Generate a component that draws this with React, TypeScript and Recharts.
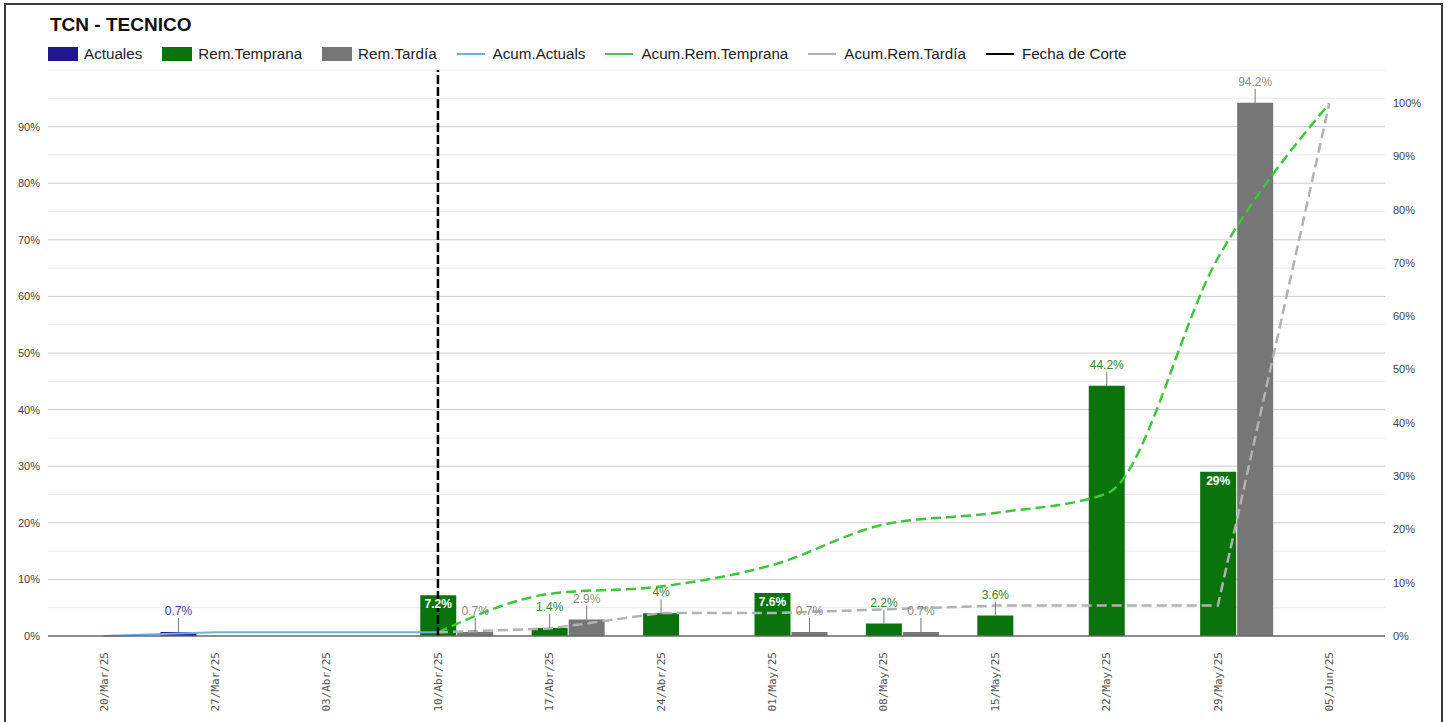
import React from 'react';
import {
  ComposedChart,
  Bar,
  Line,
  XAxis,
  YAxis,
  CartesianGrid,
  ReferenceLine,
  LabelList,
} from 'recharts';

// TCN - TECNICO: avance semanal y acumulado

const fechas = [
  '20/Mar/25', '27/Mar/25', '03/Abr/25', '10/Abr/25', '17/Abr/25', '24/Abr/25',
  '01/May/25', '08/May/25', '15/May/25', '22/May/25', '29/May/25', '05/Jun/25',
];
const actuales = [null, 0.7, null, null, null, null, null, null, null, null, null, null];
const remTemprana = [null, null, null, 7.2, 1.4, 4, 7.6, 2.2, 3.6, 44.2, 29, null];
const remTardia = [null, null, null, 0.7, 2.9, null, 0.7, 0.7, null, null, 94.2, null];
const acumActuals = [0, 0.7, 0.7, 0.7, null, null, null, null, null, null, null, null];
const acumTemprana = [null, null, null, 0.7, 7.9, 9.3, 13.3, 20.9, 23.1, 26.7, 70.9, 99.9];
const acumTardia = [null, null, null, 0.7, 1.4, 4.3, 4.3, 5.0, 5.7, 5.7, 5.7, 99.9];
const fechaCorte = '10/Abr/25';
const ticksIzq = [0, 10, 20, 30, 40, 50, 60, 70, 80, 90];
const ticksDer = [0, 10, 20, 30, 40, 50, 60, 70, 80, 90, 100];
const gridMayor = [10, 20, 30, 40, 50, 60, 70, 80, 90];
const gridMenor = [5, 15, 25, 35, 45, 55, 65, 75, 85, 95, 100];
// semanas donde la etiqueta verde va dentro de la barra
const etiquetasDentro = ['10/Abr/25', '01/May/25', '29/May/25'];

const data = fechas.map((f, i) => {
  const dentro = etiquetasDentro.includes(f);
  return {
    fecha: f,
    actuales: actuales[i],
    remTemprana: remTemprana[i],
    remTardia: remTardia[i],
    etqTempFuera: dentro ? null : remTemprana[i],
    etqTempDentro: dentro ? remTemprana[i] : null,
    acumActuals: acumActuals[i],
    acumTemprana: acumTemprana[i],
    acumTardia: acumTardia[i],
  };
});

const FONT = '"Liberation Sans", Arial, sans-serif';

const C_ACT = '#1d168c';
const C_TEMP = '#0b730b';
const C_TARD = '#767676';
const C_L_ACT = '#72aee6';
const C_L_TEMP = '#3cc83c';
const C_L_TARD = '#b2b2b2';

const leyenda = [
  { nombre: 'Actuales', color: C_ACT, tipo: 'box' },
  { nombre: 'Rem.Temprana', color: C_TEMP, tipo: 'box' },
  { nombre: 'Rem.Tardía', color: C_TARD, tipo: 'box' },
  { nombre: 'Acum.Actuals', color: C_L_ACT, tipo: 'line' },
  { nombre: 'Acum.Rem.Temprana', color: C_L_TEMP, tipo: 'line' },
  { nombre: 'Acum.Rem.Tardía', color: C_L_TARD, tipo: 'line' },
  { nombre: 'Fecha de Corte', color: '#000', tipo: 'line' },
];

const etiquetaFuera = (color: string) => (props: any) => {
  const { x, y, width, value } = props;
  if (value === null || value === undefined) return null;
  const cx = Number(x) + Number(width) / 2;
  const top = Number(y);
  return (
    <g>
      <line x1={cx} x2={cx} y1={top} y2={top - 14} stroke="#777" strokeWidth={1} />
      <text x={cx} y={top - 17} textAnchor="middle" fill={color} fontSize={12} fontFamily={FONT}>
        {`${value}%`}
      </text>
    </g>
  );
};

const etiquetaDentro = (props: any) => {
  const { x, y, width, value } = props;
  if (value === null || value === undefined) return null;
  const cx = Number(x) + Number(width) / 2;
  return (
    <text x={cx} y={Number(y) + 13} textAnchor="middle" fill="#fff" fontWeight="bold" fontSize={12} fontFamily={FONT}>
      {`${value}%`}
    </text>
  );
};

const TickFecha = (props: any) => {
  const { x, y, payload } = props;
  return (
    <text
      x={x}
      y={y + 8}
      transform={`rotate(-90, ${x}, ${y + 8})`}
      textAnchor="end"
      dy="0.35em"
      fill="#555"
      fontSize={11}
      fontFamily='"DejaVu Sans Mono", monospace'
    >
      {payload.value}
    </text>
  );
};

const App: React.FC = () => {
  return (
    <div style={{ position: 'absolute', left: 0, top: 0, width: 1451, height: 722, overflow: 'hidden', background: '#fff' }}>
      <div
        style={{
          position: 'absolute', left: 4, top: 3, width: 1439, height: 730,
          border: '2px solid #3a3a3a', boxSizing: 'border-box',
        }}
      />
      <div style={{ position: 'absolute', left: 50, top: 14, fontFamily: FONT, fontWeight: 'bold', fontSize: 19, color: '#111' }}>
        TCN - TECNICO
      </div>
      <div style={{ position: 'absolute', left: 48, top: 45, display: 'flex', alignItems: 'center', fontFamily: FONT, fontSize: 15.2, color: '#222' }}>
        {leyenda.map((l) => (
          <div key={l.nombre} style={{ display: 'flex', alignItems: 'center', marginRight: 20 }}>
            {l.tipo === 'box' ? (
              <div style={{ width: 30, height: 14, background: l.color, marginRight: 6 }} />
            ) : (
              <div style={{ width: 28, height: 2, background: l.color, marginRight: 8 }} />
            )}
            <span>{l.nombre}</span>
          </div>
        ))}
      </div>
      <div style={{ position: 'absolute', left: 0, top: 0 }}>
        <ComposedChart
          width={1451}
          height={722}
          data={data}
          margin={{ top: 70, right: 0, bottom: 0, left: 0 }}
          barCategoryGap={1}
          barGap={1}
        >
          <CartesianGrid yAxisId="left" vertical={false} horizontalValues={gridMenor} stroke="#ebebeb" />
          <CartesianGrid yAxisId="left" vertical={false} horizontalValues={gridMayor} stroke="#cccccc" />
          <XAxis
            dataKey="fecha"
            interval={0}
            height={86}
            tickLine={false}
            axisLine={{ stroke: '#666', strokeWidth: 1.5 }}
            tick={<TickFecha />}
          />
          <YAxis
            yAxisId="left"
            width={48}
            domain={[0, 100]}
            ticks={ticksIzq}
            tickFormatter={(v) => `${v}%`}
            axisLine={false}
            tickLine={false}
            tick={{ fill: '#444', fontSize: 11, fontFamily: FONT }}
          />
          <YAxis
            yAxisId="right"
            orientation="right"
            width={66}
            domain={[0, 106.2]}
            ticks={ticksDer}
            tickFormatter={(v) => `${v}%`}
            axisLine={false}
            tickLine={false}
            tick={{ fill: '#444', fontSize: 11, fontFamily: FONT, textAnchor: 'start' }}
          />
          <Bar yAxisId="left" dataKey="actuales" name="Actuales" fill={C_ACT} isAnimationActive={false}>
            <LabelList dataKey="actuales" content={etiquetaFuera('#3b3ba0')} />
          </Bar>
          <Bar yAxisId="left" dataKey="remTemprana" name="Rem.Temprana" fill={C_TEMP} isAnimationActive={false}>
            <LabelList dataKey="etqTempFuera" content={etiquetaFuera('#2f8a2f')} />
            <LabelList dataKey="etqTempDentro" content={etiquetaDentro} />
          </Bar>
          <Bar yAxisId="left" dataKey="remTardia" name="Rem.Tardía" fill={C_TARD} isAnimationActive={false}>
            <LabelList dataKey="remTardia" content={etiquetaFuera('#8a8a8a')} />
          </Bar>
          <Line
            yAxisId="right"
            type="linear"
            dataKey="acumActuals"
            name="Acum.Actuals"
            stroke={C_L_ACT}
            strokeWidth={2}
            dot={false}
            isAnimationActive={false}
          />
          <Line
            yAxisId="right"
            type="monotone"
            dataKey="acumTemprana"
            name="Acum.Rem.Temprana"
            stroke={C_L_TEMP}
            strokeWidth={2.5}
            strokeDasharray="10 5"
            dot={false}
            isAnimationActive={false}
          />
          <Line
            yAxisId="right"
            type="linear"
            dataKey="acumTardia"
            name="Acum.Rem.Tardía"
            stroke={C_L_TARD}
            strokeWidth={2.5}
            strokeDasharray="10 5"
            dot={false}
            isAnimationActive={false}
          />
          <ReferenceLine
            yAxisId="left"
            x={fechaCorte}
            stroke="#000"
            strokeWidth={2.5}
            strokeDasharray="9 3"
          />
        </ComposedChart>
      </div>
    </div>
  );
};

export default App;
